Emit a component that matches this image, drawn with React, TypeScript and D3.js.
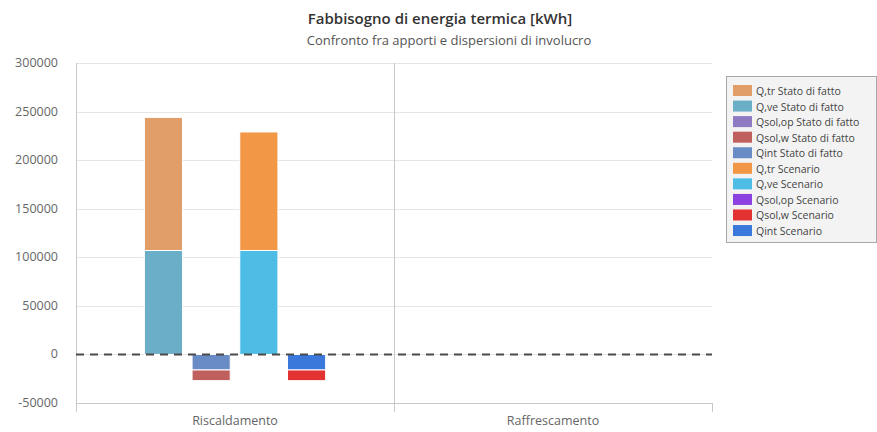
import React, { useEffect, useRef } from 'react';
import * as d3 from 'd3';

// categories and stacks
const categories = ['Riscaldamento', 'Raffrescamento'];
const stackKeys = ['fattoPos', 'fattoNeg', 'scenPos', 'scenNeg'];

// series (kWh)
const seriesNames = [
  'Q,tr Stato di fatto',
  'Q,ve Stato di fatto',
  'Qsol,op Stato di fatto',
  'Qsol,w Stato di fatto',
  'Qint Stato di fatto',
  'Q,tr Scenario',
  'Q,ve Scenario',
  'Qsol,op Scenario',
  'Qsol,w Scenario',
  'Qint Scenario',
];
const seriesStacks = ['fattoPos', 'fattoPos', 'fattoNeg', 'fattoNeg', 'fattoNeg', 'scenPos', 'scenPos', 'scenNeg', 'scenNeg', 'scenNeg'];
const seriesColors = ['#E29E68', '#6AAEC8', '#8E7AC2', '#C0605E', '#6A8CC6', '#F29746', '#4DBDE6', '#8B40DF', '#E23232', '#3B78DC'];

const qtrFatto = [137000, 0];
const qveFatto = [107000, 0];
const qsolOpFatto = [0, 0];
const qsolWFatto = [-11000, 0];
const qintFatto = [-16000, 0];
const qtrScen = [122000, 0];
const qveScen = [107000, 0];
const qsolOpScen = [0, 0];
const qsolWScen = [-11000, 0];
const qintScen = [-16000, 0];

const seriesValues = [qtrFatto, qveFatto, qsolOpFatto, qsolWFatto, qintFatto, qtrScen, qveScen, qsolOpScen, qsolWScen, qintScen];

const yTicks = [-50000, 0, 50000, 100000, 150000, 200000, 250000, 300000];

const FONT = '"Open Sans", "Noto Sans", sans-serif';

const App = () => {
  const chartRef = useRef<SVGSVGElement>(null);

  useEffect(() => {
    document.body.style.margin = '0';
    if (chartRef.current) drawChart();
  }, []);

  const drawChart = () => {
    const svg = d3.select(chartRef.current);
    svg.selectAll('*').remove();

    const left = 76, right = 712, top = 63, bottom = 403;

    const y = d3.scaleLinear().domain([-50000, 300000]).range([bottom, top]);
    const x = d3.scaleBand().domain(categories).range([left, right]).padding(0);
    const xs = d3.scaleBand()
      .domain(stackKeys)
      .range([x.bandwidth() * 0.2, x.bandwidth() * 0.8])
      .paddingInner(0.2)
      .paddingOuter(0.1);

    // title
    svg.append('text')
      .attr('x', 440).attr('y', 24)
      .attr('text-anchor', 'middle')
      .style('font-family', FONT).style('font-size', '15px').style('font-weight', 600)
      .attr('fill', '#333')
      .text('Fabbisogno di energia termica [kWh]');
    svg.append('text')
      .attr('x', 449).attr('y', 45)
      .attr('text-anchor', 'middle')
      .style('font-family', FONT).style('font-size', '13px')
      .attr('fill', '#555')
      .text('Confronto fra apporti e dispersioni di involucro');

    // horizontal grid
    svg.append('g')
      .selectAll('line')
      .data(yTicks)
      .enter()
      .append('line')
      .attr('x1', left).attr('x2', right)
      .attr('y1', d => Math.round(y(d)) + 0.5).attr('y2', d => Math.round(y(d)) + 0.5)
      .attr('stroke', d => (d === -50000 ? '#C8C8C8' : '#E6E6E6'));

    // y labels
    svg.append('g')
      .selectAll('text')
      .data(yTicks)
      .enter()
      .append('text')
      .attr('x', 58).attr('y', d => y(d) + 4)
      .attr('text-anchor', 'end')
      .style('font-family', FONT).style('font-size', '12.5px')
      .attr('fill', '#666')
      .text(d => String(d));

    // vertical category lines
    const bounds = [left, left + x.bandwidth(), right];
    svg.append('g')
      .selectAll('line')
      .data(bounds)
      .enter()
      .append('line')
      .attr('x1', d => Math.round(d) + 0.5).attr('x2', d => Math.round(d) + 0.5)
      .attr('y1', (d, i) => (i < 2 ? top : bottom)).attr('y2', bottom + 9)
      .attr('stroke', '#C8C8C8');

    // x labels
    svg.append('g')
      .selectAll('text')
      .data(categories)
      .enter()
      .append('text')
      .attr('x', d => (x(d) || 0) + x.bandwidth() / 2)
      .attr('y', 425)
      .attr('text-anchor', 'middle')
      .style('font-family', FONT).style('font-size', '12.5px')
      .attr('fill', '#666')
      .text(d => d);

    // stacked bars: earlier series farther from zero
    const bars = svg.append('g');
    categories.forEach((cat, ci) => {
      stackKeys.forEach(sk => {
        const idx = seriesNames.map((_, i) => i).filter(i => seriesStacks[i] === sk).reverse();
        let pos = 0, neg = 0;
        idx.forEach(i => {
          const v = seriesValues[i][ci];
          if (v === 0) return;
          let y0, y1;
          if (v > 0) { y0 = pos; y1 = pos + v; pos = y1; }
          else { y0 = neg; y1 = neg + v; neg = y1; }
          bars.append('rect')
            .attr('x', (x(cat) || 0) + (xs(sk) || 0))
            .attr('width', xs.bandwidth())
            .attr('y', y(Math.max(y0, y1)))
            .attr('height', Math.abs(y(y0) - y(y1)))
            .attr('fill', seriesColors[i])
            .attr('stroke', '#fff')
            .attr('stroke-width', 1);
        });
      });
    });

    // zero plot line
    svg.append('line')
      .attr('x1', left).attr('x2', right)
      .attr('y1', y(0)).attr('y2', y(0))
      .attr('stroke', '#4A4A4A')
      .attr('stroke-width', 2)
      .attr('stroke-dasharray', '8,6');

    // legend
    const lg = svg.append('g').attr('transform', 'translate(726,76)');
    lg.append('rect')
      .attr('x', 0.5).attr('y', 0.5)
      .attr('width', 150).attr('height', 166)
      .attr('fill', '#F3F3F3')
      .attr('stroke', '#A8A8A8');
    const items = lg.selectAll('g.item')
      .data(seriesNames)
      .enter()
      .append('g')
      .attr('class', 'item')
      .attr('transform', (d, i) => `translate(7,${15 + i * 15.56})`);
    items.append('rect')
      .attr('x', 0).attr('y', -6)
      .attr('width', 19).attr('height', 11)
      .attr('fill', (d, i) => seriesColors[i]);
    items.append('text')
      .attr('x', 23).attr('y', 4)
      .style('font-family', FONT).style('font-size', '10.5px')
      .attr('fill', '#444')
      .text(d => d);
  };

  return (
    <div style={{ width: 877, height: 432 }}>
      <svg ref={chartRef} width={877} height={432} style={{ display: 'block', background: '#fff' }} />
    </div>
  );
};

export default App;
